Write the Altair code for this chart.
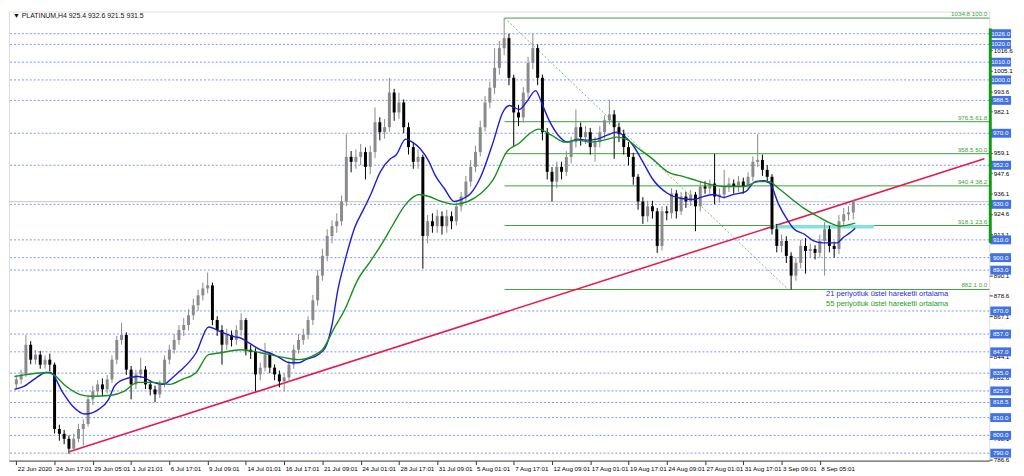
import altair as alt
import pandas as pd

# ---------------- data ----------------
closes = [831.5, 834.3, 851.0, 842.6, 845.4, 839.8, 842.6, 839.8, 803.6, 800.9,
          798.1, 792.5, 798.1, 803.6, 806.4, 820.3, 824.8, 828.7, 825.9, 831.5,
          842.6, 853.7, 856.5, 837.0, 828.7, 834.3, 837.0, 828.7, 825.9, 823.1,
          828.7, 842.6, 848.2, 853.7, 859.3, 862.1, 867.6, 873.2, 878.8, 882.7,
          884.4, 864.9, 859.3, 851.0, 856.5, 853.7, 859.3, 864.9, 848.2, 847.0,
          834.3, 838.1, 845.4, 838.1, 834.3, 830.4, 832.6, 839.8, 848.2, 853.7,
          856.5, 864.9, 876.0, 889.9, 901.0, 912.2, 917.7, 920.5, 931.6, 956.7,
          953.9, 956.7, 959.4, 951.1, 959.4, 976.2, 970.6, 973.4, 992.9, 981.7,
          987.3, 973.4, 962.2, 953.9, 956.7, 912.2, 920.5, 917.7, 923.3, 917.7,
          923.3, 920.5, 928.9, 934.4, 942.8, 951.1, 959.4, 973.4, 987.3, 995.6,
          1006.8, 1017.9, 1023.5, 1001.2, 981.7, 978.9, 992.9, 1009.5, 1017.9, 1001.2,
          970.6, 948.3, 942.8, 951.1, 948.3, 956.7, 965.0, 973.4, 967.8, 970.6,
          962.2, 965.0, 970.6, 977.3, 980.6, 973.4, 969.5, 962.2, 956.7, 945.5,
          931.6, 923.3, 928.9, 926.1, 906.6, 926.1, 925.0, 936.1, 926.1, 934.4,
          931.6, 935.5, 928.9, 940.0, 938.9, 941.7, 934.4, 935.5, 940.0, 941.7,
          940.0, 942.8, 940.0, 945.5, 953.9, 955.0, 949.4, 945.5, 916.0, 906.6,
          909.4, 901.0, 889.9, 897.1, 906.6, 903.8, 904.9, 902.7, 909.4, 916.0,
          906.6, 904.9, 920.5, 924.4, 925.4, 931.5]

highs = [834, 837, 856.5, 853, 848, 847.5, 845, 846, 841, 806,
         803, 800, 801, 806.5, 809, 822.5, 828, 831, 832, 834,
         845, 856, 863.2, 858, 839, 837, 843.7, 839, 831, 828,
         831, 845, 851, 857, 862, 866, 871, 877, 882, 886,
         891.6, 886, 867, 862, 860, 859, 862, 868.7, 866, 851,
         849, 841, 852.1, 847, 840, 836.5, 835, 842, 851, 857,
         860, 867, 879, 893, 905, 916, 921, 925, 935, 969.5,
         960, 961, 964, 962, 963, 984.5, 979, 978, 1001.2, 995,
         992.9, 989, 976, 965, 961, 958, 924, 925, 927, 926,
         927, 926, 931, 937, 946, 955, 963, 977, 991, 999,
         1017.9, 1022, 1034.8, 1026, 1003, 986, 996, 1013, 1026.2, 1020,
         1003, 973, 951, 954, 954, 960, 968, 983.4, 976, 974,
         973, 968, 974, 980, 988.9, 983, 976, 972, 965, 959,
         947, 934, 932, 932, 928, 929, 929, 939, 938, 937,
         937, 938, 937, 943, 943, 944, 958.4, 939, 949.4, 945,
         944, 946, 945, 948, 957, 969.5, 958, 952, 947, 919,
         913, 912, 903, 900, 910, 911, 908, 907, 913, 920,
         918, 909, 924, 928, 929, 932.6]

lows = [826, 829, 833, 840, 840, 837.5, 837.5, 836, 801, 797,
        795, 789.7, 791, 796, 794.2, 805, 817, 822, 822, 823.5,
        829.5, 840, 851, 834, 820.3, 826, 832, 826, 822.5, 818.7,
        821, 827, 840, 846, 851, 856, 859, 865, 870, 876,
        880, 862, 856, 839.8, 848, 850, 851, 856, 845, 843,
        824.8, 831, 836, 835, 831, 827, 824.8, 830, 837.5, 846,
        851, 854, 862, 873, 887, 898, 908, 914, 918, 929,
        948, 950, 952, 944, 947, 956, 966, 967, 971, 977,
        978, 970, 958, 950, 950, 893.8, 908, 914, 914, 913,
        914, 916, 918, 926, 932, 940, 948, 957, 971, 984,
        992, 1003, 1014, 997, 962.2, 974, 976, 990, 1006, 997,
        966, 944, 931.6, 939, 944, 946, 953, 962, 963, 964,
        958, 953.9, 962, 967, 975, 955.6, 965, 958, 952, 941,
        927, 919, 920, 922, 902.7, 904, 921, 922, 922, 924,
        928, 929, 914.9, 926, 936, 936, 930, 931, 933, 937,
        936, 937, 936, 938, 943, 951, 946, 942, 913, 903,
        903, 897, 882.1, 887, 894, 891.0, 900, 899, 900, 889.9,
        903, 900, 902, 918, 921, 921.5]

first_open = 828.7
opens = [first_open] + closes[:-1]

ema21_k = [-0.4, 1.6, 3.7, 6.3, 7.1, 9.7, 11.8, 14.4, 17.3, 19.3,
           20.5, 22.5, 25.4, 26.6, 28.6, 30.7, 32.7, 34.1, 37.6, 40.2,
           42.8, 45.7, 46.9, 48.3, 51.0, 53.8, 55.0, 57.1, 59.1, 60.5,
           63.1, 64.6, 66.0, 67.2, 68.6, 70.7, 72.7, 74.1, 76.1, 78.2,
           79.4, 81.4, 82.8, 84.5, 86.3, 87.5, 89.5, 91.6, 93.0, 95.0,
           97.1, 99.7, 101.7, 103.1, 105.2, 106.6, 108.6, 109.8, 111.3, 113.3,
           115.3, 117.4, 119.4, 121.4, 123.5, 125.5, 126.9, 128.9, 131.0, 133.0,
           136.2, 139.1, 141.7, 143.1, 145.8, 147.8, 149.8, 152.5, 154.5, 156.5,
           157.6, 159.4, 161.4, 162.6, 164.7, 166.7, 168.7, 171.6, 172.8, 174.2,
           175.4]
ema21_v = [825.9, 827.6, 831.5, 835.4, 835.4, 824.2, 816.4, 812.0, 814.8, 820.3,
           827.6, 831.5, 833.1, 832.6, 829.8, 828.7, 832.6, 835.9, 846.5, 861.0,
           858.2, 855.4, 854.8, 852.6, 848.2, 845.4, 843.7, 840.9, 840.9, 842.6,
           845.4, 849.3, 862.1, 881.5, 897.1, 916.6, 927.7, 935.5, 948.3, 955.6,
           957.8, 966.7, 965.0, 961.1, 953.9, 946.7, 938.9, 931.6, 932.7, 936.1,
           945.5, 965.0, 981.7, 985.6, 983.4, 987.3, 994.0, 987.3, 977.8, 968.9,
           965.0, 966.7, 966.1, 966.7, 968.9, 970.6, 968.9, 963.4, 953.9, 944.4,
           936.1, 933.3, 932.7, 933.9, 935.5, 933.9, 935.5, 937.2, 942.8, 943.3,
           941.7, 930.0, 920.5, 916.1, 913.3, 909.4, 908.3, 908.3, 911.1, 913.8,
           916.6]

ema55_k = [-0.4, 2.2, 6.3, 7.7, 10.4, 13.2, 15.8, 19.9, 22.5, 25.4,
           28.6, 32.1, 34.7, 37.6, 40.2, 42.8, 46.9, 51.0, 55.0, 59.1,
           62.5, 64.0, 66.6, 68.6, 71.3, 74.1, 76.8, 78.8, 81.4, 84.3,
           86.3, 88.9, 91.6, 94.4, 97.1, 99.7, 102.5, 105.2, 107.2, 109.2,
           111.9, 114.7, 117.4, 120.0, 122.8, 125.5, 127.5, 130.2, 133.0, 136.2,
           139.7, 142.3, 145.2, 148.4, 151.9, 155.3, 157.4, 159.4, 162.0, 164.7,
           167.5, 170.2, 172.2, 175.4]
ema55_v = [833.1, 834.2, 835.4, 834.3, 827.6, 823.1, 822.0, 822.6, 824.8, 829.8,
           829.8, 828.7, 831.5, 835.4, 845.4, 846.5, 848.2, 846.5, 844.3, 842.6,
           845.4, 848.2, 861.0, 870.4, 887.1, 898.2, 909.4, 918.8, 930.0, 935.5,
           934.4, 931.6, 930.0, 931.6, 936.1, 943.9, 959.4, 964.5, 969.5, 972.3,
           968.9, 965.0, 966.1, 965.0, 966.1, 967.8, 966.7, 961.1, 955.6, 948.3,
           945.5, 943.3, 941.1, 940.0, 940.0, 942.8, 942.8, 938.9, 933.3, 927.7,
           923.3, 919.4, 917.7, 919.4]

levels = [1026.0, 1020.0, 1010.0, 1000.0, 988.5, 970.0, 952.0, 930.0, 910.0, 900.0,
          893.0, 870.0, 857.0, 847.0, 835.0, 825.0, 818.5, 810.0, 800.0, 790.0]

fib_values = [1034.8, 976.5, 958.5, 940.4, 918.1, 882.1]
fib_pct = ["100.0", "61.8", "50.0", "38.2", "23.6", "0.0"]
fib_start = 102.1
fib_diag_k = [102.1, 161.4]
fib_diag_v = [1034.8, 882.1]

trend_k = [11.2, 202.4]
trend_v = [790.9, 955.7]

zone_k = [157.6, 179.3]
zone_v = 917.4

last_price = 931.5
bar_top, bar_bottom = 1029.0, 908.3

x_ticks = [0, 8, 16, 24, 32, 40, 48, 56, 64, 72, 80, 88, 96, 104, 112, 120, 128, 136, 144, 152, 160, 168]
x_labels = ["22 Jun 2020", "24 Jun 17:01", "29 Jun 05:01", "1 Jul 21:01", "6 Jul 17:01",
            "9 Jul 09:01", "14 Jul 01:01", "16 Jul 17:01", "21 Jul 09:01", "24 Jul 01:01",
            "28 Jul 17:01", "31 Jul 09:01", "5 Aug 01:01", "7 Aug 17:01", "12 Aug 09:01",
            "17 Aug 01:01", "19 Aug 17:01", "24 Aug 09:01", "27 Aug 01:01", "31 Aug 17:01",
            "3 Sep 09:01", "8 Sep 05:01"]
y_ticks = [1039.6, 1028.1, 1016.6, 1005.1, 993.6, 982.1, 970.6, 959.1, 947.6, 936.1,
           924.6, 913.1, 901.6, 890.1, 878.6, 867.1, 855.6, 844.1, 832.6, 821.1,
           809.6, 798.1, 786.6]
y_hidden = [1028.1, 970.6, 901.6, 855.6, 821.1, 809.6]

title_text = "\u25bc PLATINUM,H4  925.4 932.6 921.5 931.5"
legend_texts = ["21 periyotluk üstel hareketli ortalama", "55 periyotluk üstel hareketli ortalama"]

# ---------------- tables ----------------
candles = pd.DataFrame({"k": list(range(len(closes))), "open": opens, "high": highs,
                        "low": lows, "close": closes})
candles["dir"] = ["up" if c >= o else "down" for o, c in zip(opens, closes)]
ema21 = pd.DataFrame({"k": ema21_k, "v": ema21_v})
ema55 = pd.DataFrame({"k": ema55_k, "v": ema55_v})
lev = pd.DataFrame({"v": levels, "t": [f"{v:.1f}" for v in levels]})
fib = pd.DataFrame({"v": fib_values, "k0": [fib_start] * len(fib_values),
                    "t": [f"{v:.1f} {p}" for v, p in zip(fib_values, fib_pct)]})
diag = pd.DataFrame({"k": fib_diag_k, "v": fib_diag_v})
trend = pd.DataFrame({"k": trend_k, "v": trend_v})
zone = pd.DataFrame({"k0": [zone_k[0]], "k1": [zone_k[1]], "v": [zone_v]})
lastp = pd.DataFrame({"v": [last_price]})
gbar = pd.DataFrame({"v0": [bar_top], "v1": [bar_bottom]})

W, H = 991, 454
FONT = "Liberation Sans"
NARROW = "Liberation Sans Narrow, Liberation Sans"

xscale = alt.Scale(domain=[-0.5, 202.4], nice=False, zero=False)
yscale = alt.Scale(domain=[785.8, 1038.5], nice=False, zero=False)
label_arr = "[" + ",".join("'" + s + "'" for s in x_labels) + "]"
hide_expr = " || ".join(f"abs(datum.value-{v})<0.05" for v in y_hidden)
xaxis = alt.Axis(values=x_ticks, labelExpr=label_arr + "[round(datum.value/8)]",
                 labelAlign="left", labelOffset=1, labelFontSize=6.3, labelFont=NARROW,
                 labelColor="#000000", labelPadding=1, tickSize=4, tickColor="#333333",
                 domainColor="#444444", grid=False, title=None, labelOverlap=False,
                 labelFlush=False, labelBound=False, zindex=0)
yaxis = alt.Axis(orient="right", values=y_ticks,
                 labelExpr="(" + hide_expr + ") ? '' : format(datum.value, '.1f')",
                 labelFontSize=6.3, labelFont=NARROW, labelColor="#000000", labelPadding=1,
                 tickSize=3, tickColor="#333333", domain=False, grid=False, title=None,
                 labelOverlap=False, labelFlush=False, zindex=0)


def X(f):
    return alt.X(f, type="quantitative", scale=xscale, axis=xaxis)


def Y(f):
    return alt.Y(f, type="quantitative", scale=yscale, axis=yaxis)


dashed = alt.Chart(lev).mark_rule(color="#7a96f0", strokeDash=[2, 2], strokeWidth=1).encode(y=Y("v"))
price_line = alt.Chart(lastp).mark_rule(color="#c4c4c4", strokeWidth=1).encode(y=Y("v"))
fib_lines = alt.Chart(fib).mark_rule(color="#3f9f3f", strokeWidth=1).encode(
    x=X("k0"), x2=alt.value(W), y=Y("v"))
fib_diag = alt.Chart(diag).mark_line(color="#6cc06c", strokeDash=[2, 2], strokeWidth=1).encode(
    x=X("k"), y=Y("v"))
fib_text = alt.Chart(fib).mark_text(align="right", baseline="bottom", dy=-1, fontSize=6.3,
                                    font=NARROW, color="#3f9f3f").encode(
    x=alt.value(W - 2), y=Y("v"), text="t")
trend_line = alt.Chart(trend).mark_line(color="#e8194b", strokeWidth=1.6).encode(x=X("k"), y=Y("v"))
zone_line = alt.Chart(zone).mark_rule(color="#84e2de", strokeWidth=3.5).encode(
    x=X("k0"), x2="k1", y=Y("v"))

col = alt.Color("dir:N", scale=alt.Scale(domain=["up", "down"], range=["#8a8a8a", "#000000"]),
                legend=None)
wicks = alt.Chart(candles).mark_rule(strokeWidth=1).encode(x=X("k"), y=Y("low"), y2="high", color=col)
bodies = alt.Chart(candles).mark_bar(size=3).encode(x=X("k"), y=Y("open"), y2="close", color=col)

l21 = alt.Chart(ema21).mark_line(color="#1c1cd6", strokeWidth=1.4, interpolate="monotone").encode(
    x=X("k"), y=Y("v"))
l55 = alt.Chart(ema55).mark_line(color="#16901a", strokeWidth=1.4, interpolate="monotone").encode(
    x=X("k"), y=Y("v"))

boxes = alt.Chart(lev).mark_rule(color="#4272e2", strokeWidth=9, strokeCap="butt").encode(
    x=alt.value(W + 1), x2=alt.value(W + 22), y=Y("v"))
box_text = alt.Chart(lev).mark_text(color="#ffffff", fontSize=6.3, font=NARROW, align="center",
                                    baseline="middle").encode(
    x=alt.value(W + 11.5), y=Y("v"), text="t")
last_box = alt.Chart(lastp).mark_rule(color="#000000", strokeWidth=3, strokeCap="butt").encode(
    x=alt.value(W + 1), x2=alt.value(W + 22), y=Y("v"))
green_bar = alt.Chart(gbar).mark_rule(color="#129a12", strokeWidth=3).encode(
    x=alt.value(W + 1), y=Y("v0"), y2="v1")

title_mark = alt.Chart(pd.DataFrame({"t": [title_text]})).mark_text(
    align="left", baseline="top", fontSize=7, font=FONT, color="#111111").encode(
    x=alt.value(4), y=alt.value(1), text="t")
leg = pd.DataFrame({"t": legend_texts})
leg21 = alt.Chart(leg.iloc[[0]]).mark_text(align="left", baseline="middle", fontSize=7.6, font=FONT,
                                            color="#2a2ad8").encode(
    x=alt.value(826), y=alt.value(286), text="t")
leg55 = alt.Chart(leg.iloc[[1]]).mark_text(align="left", baseline="middle", fontSize=7.6, font=FONT,
                                            color="#22a022").encode(
    x=alt.value(826), y=alt.value(296), text="t")

chart = alt.layer(
    dashed, price_line, fib_lines, fib_diag, trend_line, zone_line,
    wicks, bodies, l21, l55, fib_text,
    last_box, boxes, box_text, green_bar, title_mark, leg21, leg55
).properties(
    width=W, height=H, padding={"left": 0, "top": 0, "right": 0, "bottom": 0}
).configure_view(stroke="#555555", strokeWidth=1).configure(background="#ffffff")

chart.save("out.html", embed_options={"renderer": "svg", "actions": False})
